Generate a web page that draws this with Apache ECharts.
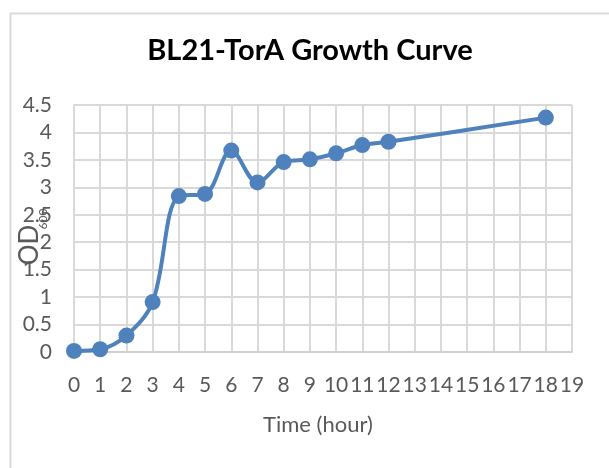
<!DOCTYPE html>
<html>
<head>
<meta charset="utf-8">
<script src="https://cdn.jsdelivr.net/npm/echarts@6/dist/echarts.min.js"></script>
<style>
html,body{margin:0;padding:0;background:#fff;}
#c{width:609px;height:468px;}
</style>
</head>
<body>
<div id="c"></div>
<script>
var titleText = 'BL21-TorA Growth Curve';
var xTitle = 'Time (hour)';
var hours = [0, 1, 2, 3, 4, 5, 6, 7, 8, 9, 10, 11, 12, 18];
var od600 = [0.02, 0.05, 0.30, 0.91, 2.84, 2.88, 3.67, 3.09, 3.46, 3.51, 3.62, 3.77, 3.83, 4.27];
var xMin = 0, xMax = 19, xStep = 1;
var yMin = 0, yMax = 4.5, yStep = 0.5;

var pts = hours.map(function (h, i) { return [h, od600[i]]; });
var font = 'Lato, "Open Sans", sans-serif';
var chart = echarts.init(document.getElementById('c'), null, {renderer: 'canvas'});
chart.setOption({
  animation: false,
  backgroundColor: '#ffffff',
  grid: {left: 74, right: 37, top: 105, bottom: 116, containLabel: false},
  xAxis: {
    type: 'value', min: xMin, max: xMax, interval: xStep,
    axisLine: {show: true, lineStyle: {color: '#d0d0d0', width: 2}},
    axisTick: {show: false},
    splitLine: {show: true, lineStyle: {color: '#d9d9d9', width: 2}},
    axisLabel: {color: '#595959', fontFamily: font, fontSize: 21, margin: 23, showMinLabel: true, showMaxLabel: true}
  },
  yAxis: {
    type: 'value', min: yMin, max: yMax, interval: yStep,
    axisLine: {show: true, lineStyle: {color: '#d9d9d9', width: 2}},
    axisTick: {show: false},
    splitLine: {show: true, lineStyle: {color: '#d9d9d9', width: 2}},
    axisLabel: {color: '#595959', fontFamily: font, fontSize: 21, margin: 22}
  },
  series: [{
    type: 'line',
    data: pts,
    smooth: 0.35,
    symbol: 'circle',
    symbolSize: 16,
    lineStyle: {color: '#4f81bd', width: 4},
    itemStyle: {color: '#4f81bd'},
    z: 3
  }],
  graphic: [
    {type: 'rect', left: 8, top: 11, shape: {width: 720, height: 620}, silent: true, z: -10,
     style: {fill: 'none', stroke: '#d9d9d9', lineWidth: 2}},
    {type: 'text', x: 310, y: 51, z: 10,
     style: {text: titleText, fill: '#000', font: 'bold 29px ' + font, textAlign: 'center', textVerticalAlign: 'middle'}},
    {type: 'text', x: 318, y: 425, z: 10,
     style: {text: xTitle, fill: '#595959', font: '22px ' + font, textAlign: 'center', textVerticalAlign: 'middle'}},
    {type: 'text', x: 30, y: 245, rotation: Math.PI / 2, z: 10,
     style: {text: 'OD', fill: '#595959', font: '26px ' + font, textAlign: 'center', textVerticalAlign: 'middle'}},
    {type: 'text', x: 43, y: 219, rotation: Math.PI / 2, z: 10,
     style: {text: '600', fill: '#595959', font: '12px ' + font, textAlign: 'center', textVerticalAlign: 'middle'}}
  ]
});
</script>
</body>
</html>
